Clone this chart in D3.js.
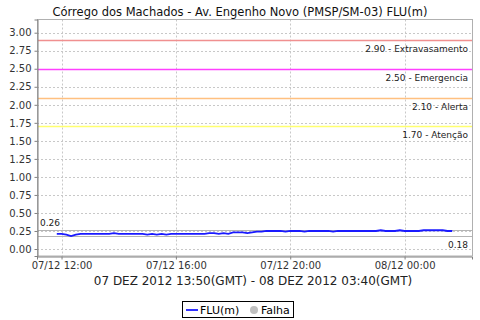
<!DOCTYPE html>
<html><head><meta charset="utf-8">
<script src="https://cdn.jsdelivr.net/npm/d3@7"></script>
<style>body{margin:0;background:#fff}svg{display:block}text{font-family:"DejaVu Sans",sans-serif}</style>
</head><body><svg id="c" width="480" height="320"></svg>
<script>
const title = "Córrego dos Machados - Av. Engenho Novo (PMSP/SM-03) FLU(m)";
const xTitle = "07 DEZ 2012 13:50(GMT) - 08 DEZ 2012 03:40(GMT)";
const startTime = "2012-12-07 11:50";
const stepMinutes = 10;
const fluValues = [0.21,0.21,0.20,0.18,0.20,0.21,0.21,0.21,0.21,0.21,0.21,0.21,0.22,0.21,0.21,0.21,0.21,0.21,0.21,0.20,
0.21,0.20,0.21,0.20,0.21,0.21,0.21,0.21,0.21,0.21,0.21,0.21,0.22,0.22,0.21,0.22,0.21,0.23,0.23,0.23,
0.22,0.23,0.24,0.24,0.25,0.25,0.25,0.25,0.24,0.25,0.25,0.25,0.24,0.25,0.25,0.25,0.25,0.25,0.24,0.25,
0.25,0.25,0.25,0.25,0.25,0.25,0.25,0.25,0.26,0.25,0.25,0.25,0.26,0.25,0.25,0.25,0.25,0.26,0.26,0.26,
0.26,0.26,0.25,0.25];
const markerValues = [2.90, 2.50, 2.10, 1.70];
const markerNames = ["Extravasamento", "Emergencia", "Alerta", "Atenção"];
const markerColors = ["#f09090", "#ff40ff", "#ffc080", "#ffff70"];
const maxValue = 0.26, minValue = 0.18;
const yTicks = [0,0.25,0.5,0.75,1,1.25,1.5,1.75,2,2.25,2.5,2.75,3];
const legendItems = ["FLU(m)", "Falha"];

const parse = d3.timeParse("%Y-%m-%d %H:%M");
const t0 = parse(startTime);
const data = fluValues.map((v,i)=>({t:d3.timeMinute.offset(t0, i*stepMinutes), v}));

const svg = d3.select("#c");
const L=37, R=472, T=19.5, B=256;
const ext = d3.extent(data, d=>d.t);
const span = ext[1]-ext[0];
const x = d3.scaleTime().domain([new Date(+ext[0]-span*0.05), new Date(+ext[1]+span*0.05)]).range([L,R]);
const y = d3.scaleLinear().domain([-0.097, 3.183]).range([B,T]);

svg.append("text").attr("x",240).attr("y",16).attr("text-anchor","middle").attr("font-size",11.5).attr("fill","#111").text(title);

// grid
const xt = x.ticks(d3.timeHour.every(4));
svg.append("g").selectAll("line").data(yTicks).join("line")
 .attr("x1",L).attr("x2",R).attr("y1",d=>Math.round(y(d))+0.5).attr("y2",d=>Math.round(y(d))+0.5)
 .attr("stroke","#c8c8c8").attr("stroke-dasharray","2,2");
svg.append("g").selectAll("line").data(xt).join("line")
 .attr("y1",T).attr("y2",B).attr("x1",d=>Math.round(x(d))+0.5).attr("x2",d=>Math.round(x(d))+0.5)
 .attr("stroke","#c8c8c8").attr("stroke-dasharray","2,2");

// outline
svg.append("rect").attr("x",L+0.5).attr("y",T).attr("width",R-L).attr("height",B-T).attr("fill","none").attr("stroke","#b0b0b0");

// markers
const mk = svg.append("g");
markerValues.forEach((m,i)=>{
  const yy = Math.round(y(m))+0.5;
  mk.append("line").attr("x1",L+1).attr("x2",R).attr("y1",yy).attr("y2",yy).attr("stroke",markerColors[i]).attr("stroke-width",1.3);
  mk.append("text").attr("x",R-4).attr("y",yy+11.5).attr("text-anchor","end").attr("font-size",9).attr("fill","#222")
    .text(d3.format(".2f")(m)+" - "+markerNames[i]);
});
[maxValue,minValue].forEach((m,i)=>{
  const yy = Math.round(y(m))+0.5;
  mk.append("line").attr("x1",L).attr("x2",R).attr("y1",yy).attr("y2",yy).attr("stroke","#b4b4b4");
  if(i===0) mk.append("text").attr("x",L+3).attr("y",yy-5).attr("font-size",9).attr("fill","#222").text(d3.format(".2f")(m));
  else mk.append("text").attr("x",R-4).attr("y",yy+11.5).attr("text-anchor","end").attr("font-size",9).attr("fill","#222").text(d3.format(".2f")(m));
});

// series
svg.append("path").datum(data).attr("fill","none").attr("stroke","#1a1aff").attr("stroke-width",1.8)
 .attr("d", d3.line().x(d=>x(d.t)).y(d=>y(d.v)));

// axes
const ya = svg.append("g").attr("transform",`translate(${L+0.5},0)`)
 .call(d3.axisLeft(y).tickValues(yTicks).tickFormat(d3.format(".2f")).tickSize(3).tickPadding(3));
const xa = svg.append("g").attr("transform",`translate(0,${B+0.5})`)
 .call(d3.axisBottom(x).tickValues(xt).tickFormat(d3.timeFormat("%d/%m %H:%M")).tickSize(3).tickPadding(2));
[ya,xa].forEach(a=>{
  a.select(".domain").attr("stroke","#808080");
  a.selectAll(".tick line").attr("stroke","#808080");
  a.selectAll("text").attr("font-family","DejaVu Sans").attr("font-size",10).attr("fill","#333");
});

svg.append("text").attr("x",253).attr("y",285).attr("text-anchor","middle").attr("font-size",12).attr("fill","#222").text(xTitle);

// legend
const lg = svg.append("g");
lg.append("rect").attr("x",182.5).attr("y",301.5).attr("width",111).attr("height",16).attr("fill","#fff").attr("stroke","#000");
lg.append("line").attr("x1",186).attr("x2",198).attr("y1",310).attr("y2",310).attr("stroke","#1a1aff").attr("stroke-width",1.8);
lg.append("text").attr("x",200).attr("y",314).attr("font-size",11).text(legendItems[0]);
lg.append("circle").attr("cx",254).attr("cy",310).attr("r",4).attr("fill","#c0c0c0");
lg.append("text").attr("x",261).attr("y",314).attr("font-size",11).text(legendItems[1]);
</script></body></html>
